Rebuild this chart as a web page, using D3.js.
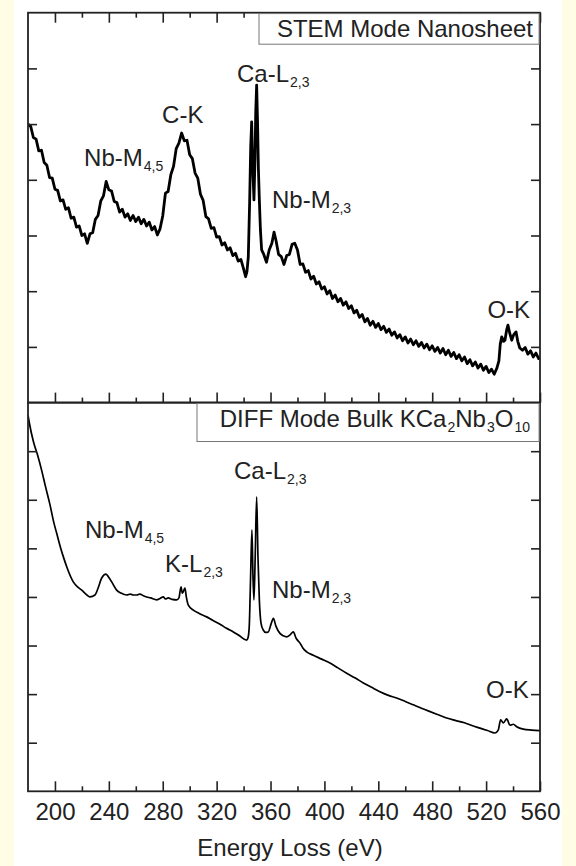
<!DOCTYPE html>
<html>
<head>
<meta charset="utf-8">
<script src="https://cdn.jsdelivr.net/npm/d3@7/dist/d3.min.js"></script>
<style>
    html, body { margin: 0; padding: 0; background: #fffde3; }
    svg { display: block; }
    text { font-family: 'Liberation Sans', Arial, sans-serif; fill: #222; }
</style>
</head>
<body>
<svg id="chart" width="576" height="866"></svg>
<script>
'use strict';

// energy axis ticks (eV)
var majorTicks = [ 200, 240, 280, 320, 360, 400, 440, 480, 520, 560 ];
var minorTicks = [ 220, 260, 300, 340, 380, 420, 460, 500, 540 ];

// STEM mode nanosheet spectrum, [energy eV, counts a.u.]
var stemSpectrum = [
    [180,5.00],[182,4.96],[184,4.76],[186,4.73],[188,4.52],[190,4.53],[192,4.31],[194,4.26],
    [196,4.04],[198,4.03],[200,3.83],[202,3.81],[204,3.62],[206,3.64],[208,3.47],[210,3.50],
    [212,3.31],[214,3.33],[216,3.15],[218,3.17],[220,3.00],[222,3.03],[224,2.86],[226,3.03],
    [228,3.05],[230,3.29],[232,3.36],[234,3.62],[236,3.71],[238,3.97],[240,3.82],[242,3.80],
    [244,3.61],[246,3.59],[248,3.42],[250,3.47],[252,3.33],[254,3.39],[256,3.27],[258,3.36],
    [260,3.25],[262,3.33],[264,3.21],[266,3.29],[268,3.17],[270,3.24],[272,3.10],[274,3.16],
    [276,3.01],[278,3.12],[280,3.35],[282,3.76],[284,3.79],[286,4.09],[288,4.24],[290,4.56],
    [292,4.66],[294,4.84],[296,4.70],[298,4.71],[300,4.45],[302,4.38],[304,4.12],[306,4.03],
    [308,3.74],[310,3.63],[312,3.34],[314,3.30],[316,3.13],[318,3.14],[320,2.97],[322,2.98],
    [324,2.83],[326,2.87],[328,2.74],[330,2.78],[332,2.64],[334,2.68],[336,2.54],[338,2.57],
    [340,2.40],[341.5,2.26],[342.5,2.35],[343.5,2.61],[344.5,3.60],[345.3,4.60],[346,5.04],
    [346.7,4.30],[347.7,3.64],[348.5,4.40],[349,5.20],[349.7,5.70],[350.4,5.00],[351,4.20],
    [351.7,3.64],[352.5,3.10],[353.4,2.74],[355,2.66],[357,2.52],[359,2.74],[361,2.86],
    [362.6,3.06],[364,2.92],[366,2.66],[368,2.62],[370,2.48],[372,2.64],[374,2.66],[376,2.84],
    [378,2.86],[380,2.74],[382,2.48],[384,2.49],[386,2.34],[388,2.37],[390,2.22],[392,2.27],
    [394,2.13],[396,2.17],[398,2.04],[400,2.08],[402,1.95],[404,2.01],[406,1.87],[408,1.93],
    [410,1.81],[412,1.87],[414,1.75],[416,1.81],[418,1.69],[420,1.74],[422,1.61],[424,1.66],
    [426,1.53],[428,1.58],[430,1.45],[432,1.51],[434,1.39],[436,1.46],[438,1.35],[440,1.42],
    [442,1.31],[444,1.37],[446,1.26],[448,1.32],[450,1.21],[452,1.27],[454,1.16],[456,1.22],
    [458,1.11],[460,1.18],[462,1.07],[464,1.14],[466,1.04],[468,1.11],[470,1.01],[472,1.08],
    [474,0.98],[476,1.05],[478,0.95],[480,1.02],[482,0.92],[484,0.99],[486,0.89],[488,0.97],
    [490,0.86],[492,0.94],[494,0.83],[496,0.90],[498,0.79],[500,0.86],[502,0.75],[504,0.82],
    [506,0.70],[508,0.77],[510,0.66],[512,0.73],[514,0.62],[516,0.69],[518,0.58],[520,0.65],
    [522,0.54],[524,0.60],[526,0.51],[528,0.62],[529.5,0.75],[530.5,1.05],[531.6,1.18],
    [533,1.10],[534,1.12],[535.2,1.30],[536.2,1.39],[537.5,1.25],[539,1.12],[540.5,1.22],
    [542.2,1.27],[543.5,1.10],[545,0.98],[547,0.94],[549,0.99],[551,0.87],[553,0.93],
    [555,0.82],[557,0.89],[559,0.79],[560,0.82]
];

// DIFF mode bulk KCa2Nb3O10 spectrum, [energy eV, counts a.u.]
var diffSpectrum = [
    [180,7.74],[181,7.58],[184,7.20],[187,6.93],[190,6.62],[193,6.27],[196.3,5.90],[199,5.55],
    [201.3,5.31],[204,5.03],[206.2,4.83],[209,4.60],[213.6,4.31],[217,4.20],[219.9,4.14],
    [223,4.06],[226,4.00],[229.7,4.04],[232,4.18],[234.7,4.39],[237.9,4.47],[240,4.40],
    [242.1,4.31],[245.8,4.14],[249,4.08],[253.3,4.04],[256,4.06],[258,4.04],[260.7,4.04],
    [263,4.06],[266,4.02],[268.1,4.00],[271,3.98],[275.5,3.94],[278,3.97],[280.4,4.00],
    [282,3.96],[284.1,3.98],[287,3.95],[290.4,3.94],[292,3.98],[293.6,4.21],[294.5,4.08],
    [295.3,4.11],[296.5,4.18],[297.5,4.00],[299,3.83],[302.7,3.73],[307,3.66],[312.6,3.59],
    [317,3.52],[322.5,3.44],[327,3.36],[332.4,3.28],[337,3.20],[342.3,3.11],[343.3,3.16],
    [344.2,3.39],[345.2,4.40],[346.2,5.38],[347,4.40],[347.7,3.94],[348.6,4.80],[349.7,6.06],
    [350.7,4.80],[351.7,3.94],[353,3.45],[354.6,3.32],[356.5,3.27],[358.3,3.28],[360.5,3.45],
    [362.1,3.56],[364,3.40],[367,3.25],[369.5,3.20],[372,3.18],[374.5,3.22],[376.9,3.28],
    [379,3.15],[381.9,3.05],[384,2.95],[386.8,2.87],[391.7,2.80],[398,2.72],[404.1,2.64],
    [410,2.54],[416.5,2.43],[423,2.33],[428.9,2.23],[435,2.14],[441.2,2.05],[447,1.98],
    [453.6,1.92],[460,1.85],[466,1.78],[472,1.71],[478.4,1.64],[485,1.57],[490.7,1.51],
    [497,1.46],[503.9,1.41],[510,1.35],[515.5,1.30],[521,1.25],[526.6,1.20],[529,1.26],
    [530.8,1.47],[532.8,1.41],[535.3,1.49],[537.7,1.36],[540.2,1.38],[542.7,1.33],
    [547.6,1.28],[553.8,1.26],[560,1.25]
];

// edge labels, anchored in data units (energy, counts)
var stemLabels = [
    { name: 'Nb-M', sub: '4,5', e: 221.6, c: 4.25 },
    { name: 'C-K',  sub: '',    e: 279.5, c: 5.02 },
    { name: 'Ca-L', sub: '2,3', e: 335.1, c: 5.75 },
    { name: 'Nb-M', sub: '2,3', e: 361.1, c: 3.49 },
    { name: 'O-K',  sub: '',    e: 521.0, c: 1.52 }
];
var diffLabels = [
    { name: 'Nb-M', sub: '4,5', e: 222.3, c: 5.21 },
    { name: 'K-L',  sub: '2,3', e: 281.7, c: 4.51 },
    { name: 'Ca-L', sub: '2,3', e: 332.9, c: 6.43 },
    { name: 'Nb-M', sub: '2,3', e: 361.1, c: 3.98 },
    { name: 'O-K',  sub: '',    e: 520.0, c: 1.92 }
];

var stemLegend = [ [ 'STEM Mode Nanosheet', '' ] ];
var diffLegend = [ [ 'DIFF Mode Bulk KCa', '2' ], [ 'Nb', '3' ], [ 'O', '10' ] ];

var stemTicks = [ 1, 2, 3, 4, 5, 6 ];
var diffTicks = [ 1, 2, 3, 4, 5, 6, 7 ];

var fontSize = 24, subSize = 14, subDrop = 5;

var svg = d3.select( '#chart' );

svg.append( 'rect' )
    .attr( 'x', 14 ).attr( 'y', 0 )
    .attr( 'width', 548 ).attr( 'height', 866 )
    .attr( 'fill', '#ffffff' );

var left = 28, right = 540;

var x = d3.scaleLinear().domain( [ 180, 560 ] ).range( [ left, right ] );

var panels = [
    {
        id: 'stem', top: 12.7, bottom: 402.6, domain: [ 0, 7 ], ticks: stemTicks,
        data: stemSpectrum, labels: stemLabels, legend: stemLegend,
        legendLeft: 259, legendHeight: 30.6, legendBase: 24.5, legendPad: 7,
        width: 2.8, curve: d3.curveLinear, topTicks: true, bottomLabels: false
    },
    {
        id: 'diff', top: 402.6, bottom: 791.3, domain: [ 0, 8 ], ticks: diffTicks,
        data: diffSpectrum, labels: diffLabels, legend: diffLegend,
        legendLeft: 197, legendHeight: 38, legendBase: 24.5, legendPad: 10,
        width: 1.7, curve: d3.curveMonotoneX, topTicks: false, bottomLabels: true
    }
];

function tickAxis( axis, values, size ){
    return axis.tickValues( values ).tickSize( -size ).tickFormat( '' );
}

function styleAxis( g ){
    g.select( '.domain' ).remove();
    g.selectAll( '.tick line' ).attr( 'stroke', '#222' ).attr( 'stroke-width', 1.6 );
}

// write name + subscript pairs, bringing the baseline back after each subscript
function writeParts( text, parts ){
    var shift = 0;
    parts.forEach(function( part ){
        text.append( 'tspan' ).attr( 'dy', -shift ).text( part[0] );
        shift = 0;
        if ( part[1] ){
            text.append( 'tspan' )
                .attr( 'font-size', subSize ).attr( 'dx', 1 ).attr( 'dy', subDrop )
                .text( part[1] );
            shift = subDrop;
        }
    });
}

panels.forEach(function( p ){
    var y = d3.scaleLinear().domain( p.domain ).range( [ p.bottom, p.top ] ),
        g = svg.append( 'g' ).attr( 'class', 'panel-' + p.id );

    g.append( 'clipPath' ).attr( 'id', 'clip-' + p.id )
        .append( 'rect' )
        .attr( 'x', left ).attr( 'y', p.top )
        .attr( 'width', right - left ).attr( 'height', p.bottom - p.top );

    var line = d3.line()
        .x(function( d ){ return x( d[0] ); })
        .y(function( d ){ return y( d[1] ); })
        .curve( p.curve );

    g.append( 'path' )
        .datum( p.data )
        .attr( 'clip-path', 'url(#clip-' + p.id + ')' )
        .attr( 'fill', 'none' )
        .attr( 'stroke', '#000' )
        .attr( 'stroke-width', p.width )
        .attr( 'stroke-linejoin', 'round' )
        .attr( 'd', line );

    // ticks point inward on every side
    g.append( 'g' ).attr( 'transform', 'translate(' + left + ',0)' )
        .call( tickAxis( d3.axisLeft( y ), p.ticks, 9 ) ).call( styleAxis );
    g.append( 'g' ).attr( 'transform', 'translate(' + right + ',0)' )
        .call( tickAxis( d3.axisRight( y ), p.ticks, 9 ) ).call( styleAxis );

    var bottomMajor = d3.axisBottom( x ).tickValues( majorTicks ).tickSize( -10 );
    if ( p.bottomLabels ){
        bottomMajor.tickPadding( 12 ).tickFormat( d3.format( 'd' ) );
    } else {
        bottomMajor.tickFormat( '' );
    }
    g.append( 'g' ).attr( 'transform', 'translate(0,' + p.bottom + ')' )
        .call( bottomMajor ).call( styleAxis )
        .selectAll( 'text' ).attr( 'font-size', fontSize ).attr( 'fill', '#222' )
        .attr( 'font-family', "'Liberation Sans', Arial, sans-serif" );
    g.append( 'g' ).attr( 'transform', 'translate(0,' + p.bottom + ')' )
        .call( tickAxis( d3.axisBottom( x ), minorTicks, 5 ) ).call( styleAxis );

    if ( p.topTicks ){
        g.append( 'g' ).attr( 'transform', 'translate(0,' + p.top + ')' )
            .call( tickAxis( d3.axisTop( x ), majorTicks, 10 ) ).call( styleAxis );
        g.append( 'g' ).attr( 'transform', 'translate(0,' + p.top + ')' )
            .call( tickAxis( d3.axisTop( x ), minorTicks, 5 ) ).call( styleAxis );
    }

    g.append( 'rect' )
        .attr( 'x', left ).attr( 'y', p.top )
        .attr( 'width', right - left ).attr( 'height', p.bottom - p.top )
        .attr( 'fill', 'none' ).attr( 'stroke', '#222' ).attr( 'stroke-width', 1.8 );

    g.selectAll( 'text.edge' )
        .data( p.labels )
        .enter().append( 'text' )
        .attr( 'class', 'edge' )
        .attr( 'x', function( d ){ return x( d.e ); } )
        .attr( 'y', function( d ){ return y( d.c ); } )
        .attr( 'font-size', fontSize )
        .each(function( d ){
            writeParts( d3.select( this ), [ [ d.name, d.sub ] ] );
        });

    // legend box sits in the top right corner of the panel
    g.append( 'rect' )
        .attr( 'x', p.legendLeft ).attr( 'y', p.top + 0.9 )
        .attr( 'width', right - 0.9 - p.legendLeft ).attr( 'height', p.legendHeight )
        .attr( 'fill', '#fff' ).attr( 'stroke', '#777' ).attr( 'stroke-width', 1 );

    var legend = g.append( 'text' )
        .attr( 'x', right - p.legendPad )
        .attr( 'y', p.top + p.legendBase )
        .attr( 'text-anchor', 'end' )
        .attr( 'font-size', fontSize );
    writeParts( legend, p.legend );
});

svg.append( 'text' )
    .attr( 'x', ( left + right ) / 2 + 6 )
    .attr( 'y', 856 )
    .attr( 'text-anchor', 'middle' )
    .attr( 'font-size', fontSize )
    .text( 'Energy Loss (eV)' );
</script>
</body>
</html>
